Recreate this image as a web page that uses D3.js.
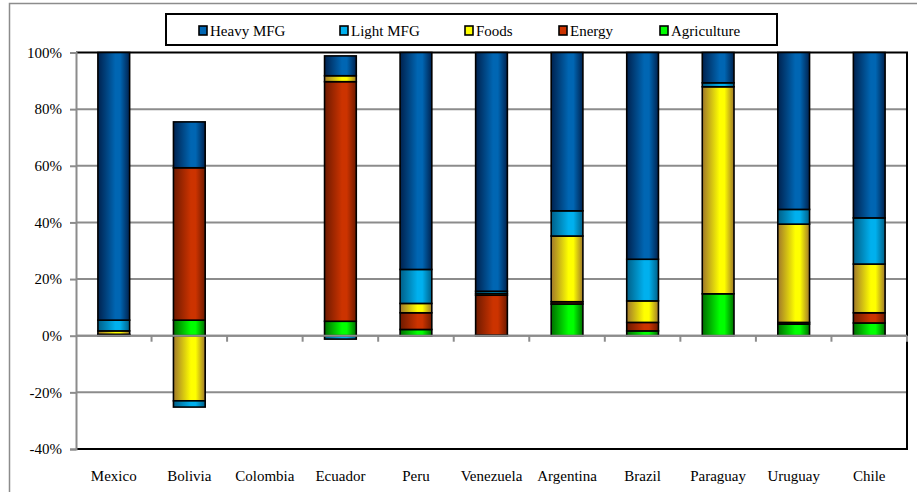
<!DOCTYPE html>
<html>
<head>
<meta charset="utf-8">
<script src="https://cdn.jsdelivr.net/npm/d3@7"></script>
<style>
  html, body { margin: 0; padding: 0; background: #fff; }
  svg { display: block; }
</style>
</head>
<body>
<svg id="chart" width="917" height="492"></svg>
<script>
// Countries along the x axis
const countries = ["Mexico", "Bolivia", "Colombia", "Ecuador", "Peru", "Venezuela",
                   "Argentina", "Brazil", "Paraguay", "Uruguay", "Chile"];

// Sector shares (%) per country, stacked bottom to top
const agriculture = [0.3, 5.5, 0, 5.1, 2.2, 0.2, 11.2, 1.7, 14.8, 4.1, 4.5];
const energy      = [0.2, 53.8, 0, 84.6, 5.9, 14.1, 0.8, 3.0, 0, 0.6, 3.6];
const foods       = [1.2, -23.0, 0, 2.1, 3.3, 0.6, 23.2, 7.6, 73.1, 34.7, 17.2];
const lightMfg    = [3.8, -2.2, 0, -1.2, 12.0, 0.8, 8.9, 14.7, 1.4, 5.2, 16.3];
const heavyMfg    = [94.5, 16.2, 0, 7.0, 76.6, 84.3, 55.9, 73.0, 10.7, 55.4, 58.4];

// Y axis ticks (%)
const yTicks = [-40, -20, 0, 20, 40, 60, 80, 100];

const seriesNames  = ["Agriculture", "Energy", "Foods", "Light MFG", "Heavy MFG"];
const seriesValues = [agriculture, energy, foods, lightMfg, heavyMfg];
const legendOrder  = ["Heavy MFG", "Light MFG", "Foods", "Energy", "Agriculture"];

// Gradient stops per series: edge shade and highlight
const palette = {
  "Heavy MFG":   { edge: "#00224f", mid: "#0066b3" },
  "Light MFG":   { edge: "#005f88", mid: "#00b0ee" },
  "Foods":       { edge: "#a0782a", mid: "#ffff00" },
  "Energy":      { edge: "#6e1a00", mid: "#cc3300" },
  "Agriculture": { edge: "#006e00", mid: "#00ff00" }
};

const FONT = "'Liberation Serif', 'Times New Roman', Tinos, serif";

const svg = d3.select("#chart");
const W = 917, H = 492;

// Outer chart frame
svg.append("rect")
  .attr("x", 9.5).attr("y", 3.5).attr("width", W).attr("height", H)
  .attr("fill", "none").attr("stroke", "#8c8c8c").attr("stroke-width", 1.5);

const plot = { left: 76, right: 907, top: 52.5, bottom: 449 };

const x = d3.scaleBand().domain(countries).range([plot.left, plot.right]).paddingInner(0.58).paddingOuter(0.29);
const y = d3.scaleLinear().domain([-40, 100]).range([plot.bottom, plot.top]);

// Gradients
const defs = svg.append("defs");
seriesNames.forEach((name, i) => {
  const g = defs.append("linearGradient").attr("id", "grad" + i)
    .attr("x1", "0%").attr("x2", "100%").attr("y1", "0%").attr("y2", "0%");
  g.append("stop").attr("offset", "0%").attr("stop-color", palette[name].edge);
  g.append("stop").attr("offset", "55%").attr("stop-color", palette[name].mid);
  g.append("stop").attr("offset", "70%").attr("stop-color", palette[name].mid);
  g.append("stop").attr("offset", "100%").attr("stop-color", palette[name].edge);
});

// Horizontal gridlines
svg.append("g")
  .selectAll("line").data(yTicks.filter(t => t !== 100 && t !== -40)).join("line")
  .attr("x1", plot.left).attr("x2", plot.right)
  .attr("y1", d => y(d)).attr("y2", d => y(d))
  .attr("stroke", "#8c8c8c").attr("stroke-width", 2);

// Plot frame (top, right, bottom)
svg.append("path")
  .attr("d", `M${plot.left},${plot.top}H${plot.right}V${plot.bottom}H${plot.left}`)
  .attr("fill", "none").attr("stroke", "#000").attr("stroke-width", 2);

// Y axis
const yAxis = svg.append("g").attr("transform", `translate(${plot.left},0)`)
  .call(d3.axisLeft(y).tickValues(yTicks).tickSize(6).tickPadding(8).tickFormat(d => d + "%"));
yAxis.select(".domain").attr("stroke", "#8c8c8c").attr("stroke-width", 2);
yAxis.selectAll(".tick line").attr("stroke", "#8c8c8c").attr("stroke-width", 2);
yAxis.selectAll("text").attr("fill", "#000").style("font-family", FONT).style("font-size", "15px");

// Stacked bars
const table = countries.map((c, i) => {
  const row = { country: c };
  seriesNames.forEach((s, k) => { row[s] = seriesValues[k][i]; });
  return row;
});
const stack = d3.stack().keys(seriesNames).offset(d3.stackOffsetDiverging);
const layers = stack(table);

const barsG = svg.append("g");
layers.forEach((layer, k) => {
  barsG.append("g")
    .selectAll("rect").data(layer.filter(d => d[1] !== d[0])).join("rect")
    .attr("x", d => x(d.data.country))
    .attr("width", x.bandwidth())
    .attr("y", d => y(Math.max(d[0], d[1])))
    .attr("height", d => Math.abs(y(d[0]) - y(d[1])))
    .attr("fill", `url(#grad${k})`)
    .attr("stroke", "#000").attr("stroke-width", 1.6);
});

// Zero line with category boundary ticks
svg.append("line")
  .attr("x1", plot.left).attr("x2", plot.right)
  .attr("y1", y(0)).attr("y2", y(0))
  .attr("stroke", "#8c8c8c").attr("stroke-width", 2);
svg.append("g").selectAll("line").data(d3.range(1, countries.length + 1)).join("line")
  .attr("x1", d => plot.left + d * (plot.right - plot.left) / countries.length)
  .attr("x2", d => plot.left + d * (plot.right - plot.left) / countries.length)
  .attr("y1", y(0)).attr("y2", y(0) + 6)
  .attr("stroke", "#8c8c8c").attr("stroke-width", 2);

// Category labels
svg.append("g").selectAll("text").data(countries).join("text")
  .attr("x", d => x(d) + x.bandwidth() / 2)
  .attr("y", 481)
  .attr("text-anchor", "middle")
  .style("font-family", FONT).style("font-size", "15px")
  .text(d => d);

// Legend
const legend = svg.append("g");
legend.append("rect")
  .attr("x", 166).attr("y", 14).attr("width", 611).attr("height", 31)
  .attr("fill", "#fff").attr("stroke", "#000").attr("stroke-width", 2);
const legendX = [199, 340, 465, 559, 660];
legendOrder.forEach((name, i) => {
  legend.append("rect")
    .attr("x", legendX[i]).attr("y", 26).attr("width", 8).attr("height", 9)
    .attr("fill", palette[name].mid).attr("stroke", "#000").attr("stroke-width", 1.6);
  legend.append("text")
    .attr("x", legendX[i] + 11).attr("y", 36)
    .style("font-family", FONT).style("font-size", "15px")
    .text(name);
});
</script>
</body>
</html>
